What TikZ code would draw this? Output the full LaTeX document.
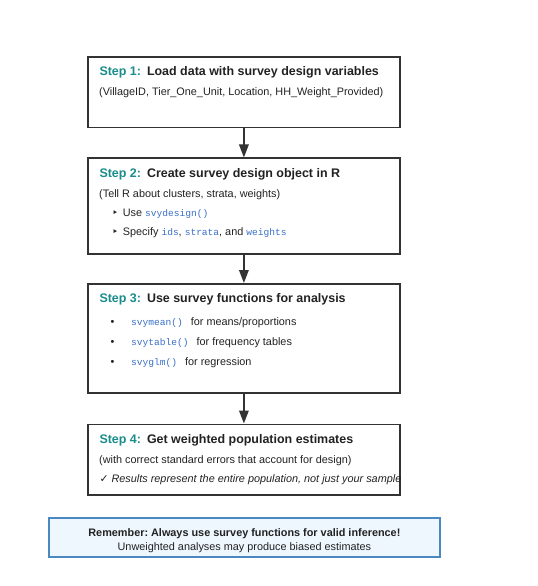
\documentclass[tikz,border=0pt]{standalone}
\usepackage{fontspec}
\setmainfont{Liberation Sans}
\setmonofont{Liberation Mono}
\newfontfamily\symfont{DejaVu Sans}
\usetikzlibrary{arrows.meta}
\definecolor{stepteal}{HTML}{1A8C8C}
\definecolor{codeblue}{HTML}{3A70C8}
\definecolor{ink}{HTML}{222222}
\definecolor{boxline}{HTML}{333333}
\definecolor{remfill}{HTML}{EEF6FE}
\definecolor{remline}{HTML}{4A88C2}
\newcommand{\cd}[1]{{\color{codeblue}\fontsize{9.6}{12}\ttfamily #1}}
\newcommand{\stp}[1]{\textcolor{stepteal}{#1}\hspace{6bp}}
\frenchspacing
\begin{document}
\frenchspacing
\begin{tikzpicture}[x=1bp,y=-1bp,
  stepbox/.style={draw=boxline, line width=1.8bp, fill=white, anchor=north west, minimum width=312bp, inner sep=0},
  rembox/.style={draw=remline, line width=1.8bp, fill=remfill, anchor=north west, minimum width=391bp, minimum height=39bp, inner sep=0},
  txt/.style={anchor=base west, inner sep=0, text=ink, font=\fontsize{10.9}{13}\selectfont},
  ttl/.style={txt, font=\fontsize{12.5}{15}\selectfont\bfseries},
  bul/.style={anchor=base west, inner sep=0, text=ink, font=\symfont\fontsize{10.5}{12}\selectfont},
  dot/.style={anchor=base west, inner sep=0, text=ink, font=\fontsize{10.9}{13}\selectfont},
  remtxt/.style={anchor=base, inner sep=0, text=ink, font=\fontsize{10.9}{13}\selectfont},
  flow/.style={draw=boxline, line width=1.8bp, -{Triangle[length=13bp,width=9.5bp]}}]
\useasboundingbox (0,0) rectangle (538,586);
% boxes
\node[stepbox, minimum height=70.5bp] (b1) at (87,56) {};
\node[stepbox, minimum height=95.5bp] (b2) at (87,157.5) {};
\node[stepbox, minimum height=109bp] (b3) at (87,283) {};
\node[stepbox, minimum height=70.5bp] (b4) at (87,423.5) {};
\node[rembox] (rem) at (48,517) {};
% connectors
\draw[flow] (b1.south) -- (b2.north);
\draw[flow] (b2.south) -- (b3.north);
\draw[flow] (b3.south) -- (b4.north);
% step 1
\node[ttl] (t1) at (99.3,75.7) {\stp{Step 1:}Load data with survey design variables};
\node[txt] (s1) at (99,96) {(VillageID, Tier\_One\_Unit, Location, HH\_Weight\_Provided)};
% step 2
\node[ttl] (t2) at (99.3,177.7) {\stp{Step 2:}Create survey design object in R};
\node[txt] (s2) at (99,197.7) {(Tell R about clusters, strata, weights)};
\node[bul] (p21) at (112,216.2) {‣};
\node[txt] (l21) at (122.7,216.7) {Use \cd{svydesign()}};
\node[bul] (p22) at (112,235.2) {‣};
\node[txt] (l22) at (122.7,235.7) {Specify \cd{ids}, \cd{strata}, and \cd{weights}};
% step 3
\node[ttl] (t3) at (99.3,302.3) {\stp{Step 3:}Use survey functions for analysis};
\node[dot] (p31) at (110.5,325.7) {•};
\node[txt] (l31) at (131,325.7) {\cd{svymean()}\hspace{8bp}for means/proportions};
\node[dot] (p32) at (110.5,345) {•};
\node[txt] (l32) at (131,345) {\cd{svytable()}\hspace{8bp}for frequency tables};
\node[dot] (p33) at (110.5,365) {•};
\node[txt] (l33) at (131,365) {\cd{svyglm()}\hspace{8bp}for regression};
% step 4
\node[ttl] (t4) at (99.3,443.3) {\stp{Step 4:}Get weighted population estimates};
\node[txt] (s4) at (99,463.3) {(with correct standard errors that account for design)};
\node[txt] (c4) at (99.3,482.3) {{\symfont ✓} \textit{Results represent the entire population, not just your sample}};
% remember
\node[remtxt, font=\fontsize{10.9}{13}\selectfont\bfseries] (r1) at (rem.center |- 0,536.7) {Remember: Always use survey functions for valid inference!};
\node[remtxt] (r2) at (rem.center |- 0,550) {Unweighted analyses may produce biased estimates};
\end{tikzpicture}
\end{document}
